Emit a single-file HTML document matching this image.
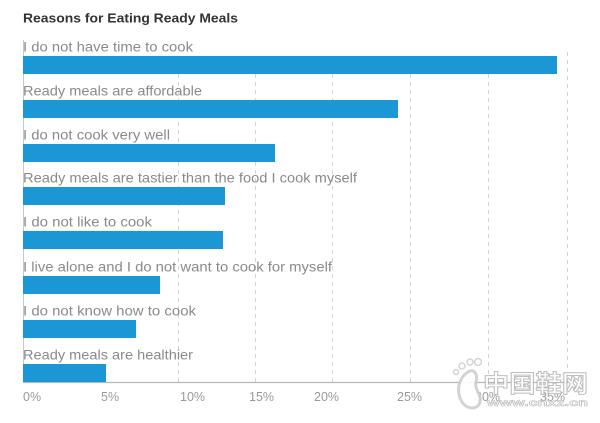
<!DOCTYPE html>
<html><head><meta charset="utf-8"><style>
html,body{margin:0;padding:0;background:#fff;}
svg{display:block;}
</style></head><body>
<svg width="600" height="423" viewBox="0 0 600 423" xmlns="http://www.w3.org/2000/svg">
<rect width="600" height="423" fill="#ffffff"/>
<g stroke="#d4d4d4" stroke-width="1" stroke-dasharray="4,4">
<line x1="178.5" y1="74" x2="178.5" y2="382"/>
<line x1="255.5" y1="74" x2="255.5" y2="382"/>
<line x1="332.5" y1="74" x2="332.5" y2="382"/>
<line x1="410.5" y1="74" x2="410.5" y2="382"/>
<line x1="488.5" y1="74" x2="488.5" y2="382"/>
<line x1="567.5" y1="52" x2="567.5" y2="382"/>
</g>
<line x1="23.5" y1="40" x2="23.5" y2="382" stroke="#c8c8c8" stroke-width="1"/>
<line x1="23" y1="382.5" x2="568" y2="382.5" stroke="#b8b8b8" stroke-width="1.2"/>
<text x="23" y="22.5" font-family="Liberation Sans, sans-serif" font-weight="bold" font-size="13" fill="#333" textLength="215" lengthAdjust="spacingAndGlyphs">Reasons for Eating Ready Meals</text>
<g font-family="Liberation Sans, sans-serif" font-size="14" fill="#8a8a8a">
<text x="23" y="51.5" textLength="170" lengthAdjust="spacingAndGlyphs">I do not have time to cook</text>
<text x="23" y="95.5" textLength="179" lengthAdjust="spacingAndGlyphs">Ready meals are affordable</text>
<text x="23" y="139.5" textLength="147" lengthAdjust="spacingAndGlyphs">I do not cook very well</text>
<text x="23" y="182.5" textLength="334" lengthAdjust="spacingAndGlyphs">Ready meals are tastier than the food I cook myself</text>
<text x="23" y="226.5" textLength="129" lengthAdjust="spacingAndGlyphs">I do not like to cook</text>
<text x="23" y="271.5" textLength="309" lengthAdjust="spacingAndGlyphs">I live alone and I do not want to cook for myself</text>
<text x="23" y="315.5" textLength="173" lengthAdjust="spacingAndGlyphs">I do not know how to cook</text>
<text x="23" y="359.5" textLength="170" lengthAdjust="spacingAndGlyphs">Ready meals are healthier</text>
</g>
<g fill="#1a97d4">
<rect x="23" y="56" width="534" height="18"/>
<rect x="23" y="100" width="375" height="18"/>
<rect x="23" y="144" width="252" height="18"/>
<rect x="23" y="187" width="202" height="18"/>
<rect x="23" y="231" width="200" height="18"/>
<rect x="23" y="276" width="137" height="18"/>
<rect x="23" y="320" width="113" height="18"/>
<rect x="23" y="364" width="83" height="18"/>
</g>
<g font-family="Liberation Sans, sans-serif" font-size="12.5" fill="#9a9a9a">
<text x="23" y="401">0%</text>
<text x="101" y="401">5%</text>
<text x="180" y="401">10%</text>
<text x="249" y="401">15%</text>
<text x="314" y="401">20%</text>
<text x="397" y="401">25%</text>
<text x="475" y="401">30%</text>
<text x="540" y="401">35%</text>
</g>
<g opacity="0.9">
<path d="M468 372 C458 378 456 392 462 402 C467 410 478 410 480 402 C482 394 474 390 476 382 C478 374 474 368 468 372 Z" fill="#ffffff" stroke="#cfcfcf" stroke-width="3"/>
<circle cx="462" cy="366" r="3" fill="#fff" stroke="#cfcfcf" stroke-width="1.5"/>
<circle cx="470" cy="362" r="3" fill="#fff" stroke="#cfcfcf" stroke-width="1.5"/>
<circle cx="478" cy="362" r="3.5" fill="#fff" stroke="#cfcfcf" stroke-width="1.5"/>
<circle cx="456" cy="372" r="2.5" fill="#fff" stroke="#cfcfcf" stroke-width="1.5"/>
<text x="483" y="392" font-family="Liberation Sans, 'Noto Sans CJK SC', sans-serif" font-weight="bold" font-size="24" fill="#ffffff" stroke="#b8b8b8" stroke-width="1" textLength="105" lengthAdjust="spacingAndGlyphs">中国鞋网</text>
<text x="487" y="406" font-family="Liberation Sans, sans-serif" font-weight="bold" font-size="10" fill="#ffffff" stroke="#b8b8b8" stroke-width="0.6" textLength="101" lengthAdjust="spacingAndGlyphs">www.cnxz.cn</text>
</g>
</svg>
</body></html>
